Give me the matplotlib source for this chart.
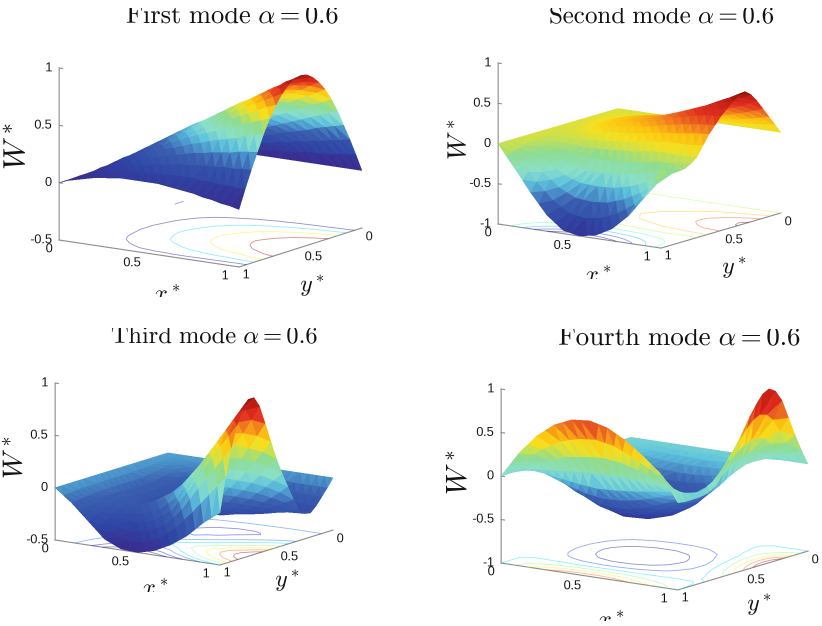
import matplotlib
matplotlib.use('Agg')
import matplotlib.pyplot as plt
import numpy as np
from matplotlib.colors import LinearSegmentedColormap, Normalize, PowerNorm
from matplotlib.transforms import Bbox, TransformedBbox
from mpl_toolkits.mplot3d import proj3d

plt.rcParams['font.family'] = ['Liberation Sans', 'DejaVu Sans']
plt.rcParams['mathtext.fontset'] = 'cm'

W_PX, H_PX = 822, 626

x_grid = [0, .05, .1, .15, .2, .25, .3, .35, .4, .45, .5, .55, .6, .65, .7, .75, .8, .85, .9, .95, 1]
y_grid = [0, .05, .1, .15, .2, .25, .3, .35, .4, .45, .5, .55, .6, .65, .7, .75, .8, .85, .9, .95, 1]

# W*, one row per x*, one column per y*
mode1 = [
    [0] * 21,
    [0, .01, .02, .02, .03, .04, .04, .05, .05, .05, .05, .05, .05, .05, .05, .05, .04, .04, .04, .03, .03],
    [0, .02, .03, .05, .06, .07, .08, .09, .10, .10, .11, .11, .11, .10, .10, .09, .09, .08, .07, .06, .05],
    [0, .02, .05, .07, .09, .11, .12, .13, .14, .15, .16, .16, .16, .15, .15, .14, .12, .11, .10, .08, .07],
    [0, .03, .06, .09, .12, .14, .16, .18, .19, .20, .21, .21, .21, .20, .19, .18, .16, .15, .13, .11, .09],
    [0, .04, .08, .11, .15, .18, .20, .22, .24, .25, .26, .26, .26, .25, .24, .22, .20, .17, .15, .12, .10],
    [0, .05, .09, .14, .18, .21, .24, .27, .29, .30, .31, .31, .31, .30, .28, .26, .23, .20, .17, .14, .11],
    [0, .05, .11, .16, .21, .25, .28, .31, .33, .35, .36, .37, .36, .34, .32, .30, .27, .23, .19, .15, .12],
    [0, .06, .12, .18, .24, .28, .32, .36, .38, .40, .42, .42, .41, .39, .37, .33, .30, .26, .21, .17, .12],
    [0, .07, .14, .20, .27, .32, .36, .40, .43, .45, .47, .47, .45, .43, .41, .37, .33, .28, .23, .17, .12],
    [0, .08, .16, .23, .29, .35, .41, .45, .48, .50, .52, .51, .50, .48, .45, .40, .35, .30, .24, .18, .12],
    [0, .09, .17, .25, .32, .39, .45, .49, .52, .54, .56, .56, .55, .52, .48, .44, .38, .32, .25, .18, .12],
    [0, .09, .19, .27, .35, .42, .49, .53, .57, .59, .61, .61, .59, .57, .52, .47, .41, .34, .27, .19, .11],
    [0, .10, .20, .30, .38, .46, .53, .58, .62, .64, .66, .66, .64, .61, .56, .50, .43, .36, .27, .19, .10],
    [0, .11, .22, .32, .41, .50, .57, .62, .67, .69, .71, .71, .69, .65, .60, .53, .46, .37, .28, .19, .09],
    [0, .12, .23, .34, .44, .53, .61, .67, .71, .74, .76, .75, .73, .69, .63, .56, .48, .39, .29, .18, .08],
    [0, .12, .25, .36, .47, .57, .65, .71, .76, .79, .81, .80, .77, .73, .67, .59, .50, .40, .29, .18, .06],
    [0, .13, .26, .39, .50, .60, .69, .76, .81, .84, .86, .85, .82, .77, .70, .62, .52, .41, .30, .17, .05],
    [0, .14, .28, .41, .53, .64, .73, .80, .86, .89, .90, .89, .86, .81, .74, .65, .55, .43, .30, .17, .03],
    [0, .15, .29, .43, .56, .67, .77, .85, .90, .94, .95, .95, .91, .85, .78, .68, .57, .44, .31, .16, .02],
    [0, .16, .31, .45, .59, .71, .81, .89, .95, .99, 1.0, .99, .95, .89, .81, .71, .59, .45, .31, .16, 0],
]
mode2 = [
    [0] * 21,
    [0, 0, .01, .01, .01, .01, .01, .01, .01, 0, 0, -.01, -.01, -.02, -.03, -.04, -.05, -.07, -.09, -.11, -.14],
    [0, .005, .01, .015, .02, .025, .03, .025, .02, .01, 0, -.01, -.02, -.035, -.05, -.07, -.10, -.14, -.18, -.22, -.27],
    [0, .01, .015, .025, .035, .04, .05, .05, .045, .035, .025, .01, -.01, -.03, -.06, -.095, -.135, -.195, -.26, -.33, -.41],
    [0, .01, .02, .035, .05, .06, .07, .07, .07, .06, .05, .03, 0, -.03, -.07, -.12, -.17, -.25, -.34, -.44, -.55],
    [0, .015, .03, .05, .07, .085, .10, .105, .105, .095, .08, .055, .02, -.025, -.075, -.14, -.215, -.31, -.42, -.54, -.675],
    [0, .02, .04, .065, .09, .11, .13, .14, .14, .13, .11, .08, .04, -.02, -.08, -.16, -.26, -.37, -.50, -.64, -.80],
    [0, .025, .05, .08, .105, .13, .15, .16, .165, .155, .14, .105, .06, -.01, -.08, -.17, -.28, -.405, -.55, -.705, -.88],
    [0, .03, .06, .09, .12, .145, .17, .18, .19, .18, .17, .13, .08, 0, -.08, -.18, -.30, -.44, -.60, -.77, -.96],
    [0, .03, .065, .10, .13, .16, .185, .195, .205, .195, .185, .145, .09, .01, -.07, -.175, -.30, -.445, -.61, -.785, -.98],
    [0, .035, .07, .105, .14, .17, .20, .21, .22, .21, .20, .16, .10, .02, -.06, -.17, -.30, -.45, -.62, -.80, -1.0],
    [0, .04, .08, .12, .16, .19, .225, .24, .25, .235, .22, .175, .115, .03, -.055, -.165, -.295, -.445, -.61, -.785, -.98],
    [0, .045, .09, .135, .18, .215, .25, .27, .28, .26, .24, .19, .13, .04, -.05, -.16, -.29, -.44, -.60, -.77, -.96],
    [0, .05, .105, .16, .21, .25, .29, .31, .315, .295, .27, .215, .15, .06, -.035, -.145, -.275, -.415, -.565, -.725, -.905],
    [0, .06, .12, .18, .24, .29, .33, .35, .35, .33, .30, .24, .17, .08, -.02, -.13, -.26, -.39, -.53, -.68, -.85],
    [0, .07, .135, .205, .275, .33, .375, .39, .385, .36, .33, .26, .18, .09, -.01, -.115, -.23, -.35, -.475, -.61, -.755],
    [0, .075, .15, .23, .31, .37, .42, .43, .42, .39, .36, .28, .19, .10, 0, -.10, -.20, -.31, -.42, -.54, -.66],
    [0, .085, .17, .26, .35, .42, .475, .48, .46, .42, .38, .295, .205, .10, -.005, -.095, -.175, -.26, -.35, -.44, -.53],
    [0, .095, .19, .29, .39, .47, .53, .53, .50, .45, .40, .31, .22, .10, -.01, -.09, -.15, -.21, -.28, -.34, -.40],
    [0, .11, .215, .325, .435, .525, .585, .575, .53, .47, .41, .32, .23, .11, -.005, -.075, -.125, -.16, -.195, -.21, -.215],
    [0, .12, .24, .36, .48, .58, .64, .62, .56, .49, .42, .33, .24, .12, 0, -.06, -.10, -.11, -.11, -.08, -.03],
]
mode3 = [
    [0] * 21,
    [0, -.01, -.015, -.02, -.03, -.035, -.04, -.04, -.045, -.045, -.045, -.045, -.045, -.045, -.045, -.05, -.05, -.05, -.055, -.06, -.06],
    [0, -.015, -.03, -.045, -.06, -.07, -.08, -.085, -.09, -.09, -.09, -.09, -.09, -.09, -.09, -.095, -.10, -.105, -.11, -.115, -.12],
    [0, -.02, -.045, -.07, -.09, -.105, -.115, -.12, -.13, -.13, -.13, -.13, -.125, -.12, -.12, -.125, -.135, -.15, -.165, -.18, -.195],
    [0, -.03, -.06, -.09, -.12, -.14, -.15, -.16, -.17, -.17, -.17, -.165, -.16, -.155, -.15, -.155, -.17, -.19, -.22, -.24, -.27],
    [0, -.04, -.075, -.11, -.145, -.17, -.185, -.20, -.21, -.21, -.21, -.20, -.195, -.18, -.175, -.18, -.205, -.235, -.275, -.305, -.345],
    [0, -.045, -.09, -.13, -.17, -.20, -.22, -.24, -.25, -.25, -.25, -.24, -.23, -.21, -.20, -.21, -.24, -.28, -.33, -.37, -.42],
    [0, -.05, -.10, -.145, -.19, -.22, -.245, -.265, -.275, -.275, -.27, -.25, -.23, -.195, -.165, -.185, -.23, -.285, -.345, -.40, -.455],
    [0, -.055, -.11, -.16, -.21, -.24, -.27, -.29, -.30, -.30, -.29, -.26, -.23, -.18, -.13, -.16, -.22, -.29, -.36, -.43, -.49],
    [0, -.06, -.115, -.17, -.225, -.26, -.29, -.31, -.315, -.31, -.295, -.255, -.205, -.14, -.08, -.11, -.185, -.265, -.345, -.425, -.495],
    [0, -.06, -.12, -.18, -.24, -.28, -.31, -.33, -.33, -.32, -.30, -.25, -.18, -.10, -.03, -.06, -.15, -.24, -.33, -.42, -.50],
    [0, -.065, -.125, -.19, -.25, -.29, -.32, -.33, -.325, -.305, -.27, -.21, -.135, -.045, .035, .015, -.085, -.185, -.29, -.39, -.48],
    [0, -.07, -.13, -.20, -.26, -.30, -.33, -.33, -.32, -.29, -.24, -.17, -.09, .01, .10, .09, -.02, -.13, -.25, -.36, -.46],
    [0, -.07, -.135, -.205, -.265, -.30, -.325, -.315, -.295, -.25, -.19, -.11, -.02, .09, .19, .19, .09, -.03, -.165, -.295, -.42],
    [0, -.07, -.14, -.21, -.27, -.30, -.32, -.30, -.27, -.21, -.14, -.05, .05, .17, .28, .29, .20, .07, -.08, -.23, -.38],
    [0, -.075, -.145, -.215, -.275, -.295, -.305, -.275, -.23, -.155, -.07, .03, .14, .27, .39, .405, .325, .19, .035, -.145, -.325],
    [0, -.08, -.15, -.22, -.28, -.29, -.29, -.25, -.19, -.10, 0, .11, .23, .37, .50, .52, .45, .31, .15, -.06, -.27],
    [0, -.08, -.15, -.22, -.28, -.28, -.27, -.21, -.135, -.03, .085, .21, .345, .495, .62, .64, .575, .435, .255, .035, -.195],
    [0, -.08, -.15, -.22, -.28, -.27, -.25, -.17, -.08, .04, .17, .31, .46, .62, .74, .76, .70, .56, .36, .13, -.12],
    [0, -.08, -.15, -.22, -.275, -.265, -.225, -.13, -.015, .115, .26, .42, .59, .76, .87, .88, .81, .67, .47, .225, -.06],
    [0, -.08, -.15, -.22, -.27, -.26, -.20, -.09, .05, .19, .35, .53, .72, .90, 1.0, 1.0, .92, .78, .58, .32, 0],
]
mode4 = [
    [0] * 21,
    [0, -.005, -.015, -.025, -.04, -.055, -.07, -.085, -.095, -.105, -.105, -.105, -.095, -.085, -.065, -.045, -.015, .02, .06, .10, .145],
    [0, -.01, -.03, -.05, -.08, -.11, -.14, -.17, -.19, -.21, -.21, -.21, -.19, -.17, -.13, -.09, -.03, .04, .12, .20, .29],
    [0, -.015, -.04, -.07, -.11, -.15, -.195, -.235, -.27, -.295, -.30, -.295, -.275, -.24, -.19, -.125, -.045, .05, .16, .275, .405],
    [0, -.02, -.05, -.09, -.14, -.19, -.25, -.30, -.35, -.38, -.39, -.38, -.36, -.31, -.25, -.16, -.06, .06, .20, .35, .52],
    [0, -.025, -.055, -.10, -.155, -.215, -.28, -.34, -.395, -.43, -.44, -.43, -.41, -.36, -.29, -.19, -.075, .07, .235, .41, .60],
    [0, -.03, -.06, -.11, -.17, -.24, -.31, -.38, -.44, -.48, -.49, -.48, -.46, -.41, -.33, -.22, -.09, .08, .27, .47, .68],
    [0, -.03, -.06, -.115, -.18, -.25, -.325, -.40, -.465, -.505, -.52, -.51, -.49, -.435, -.35, -.235, -.10, .085, .285, .50, .725],
    [0, -.03, -.06, -.12, -.19, -.26, -.34, -.42, -.49, -.53, -.55, -.54, -.52, -.46, -.37, -.25, -.11, .09, .30, .53, .77],
    [0, -.03, -.065, -.12, -.19, -.26, -.34, -.42, -.49, -.53, -.55, -.54, -.515, -.455, -.365, -.245, -.105, .095, .31, .54, .78],
    [0, -.03, -.07, -.12, -.19, -.26, -.34, -.42, -.49, -.53, -.55, -.54, -.51, -.45, -.36, -.24, -.10, .10, .32, .55, .79],
    [0, -.03, -.065, -.115, -.18, -.245, -.32, -.395, -.46, -.50, -.52, -.51, -.48, -.42, -.335, -.22, -.09, .10, .31, .53, .765],
    [0, -.03, -.06, -.11, -.17, -.23, -.30, -.37, -.43, -.47, -.49, -.48, -.45, -.39, -.31, -.20, -.08, .10, .30, .51, .74],
    [0, -.025, -.05, -.09, -.14, -.195, -.255, -.315, -.37, -.41, -.43, -.42, -.395, -.34, -.27, -.17, -.065, .09, .27, .465, .685],
    [0, -.02, -.04, -.07, -.11, -.16, -.21, -.26, -.31, -.35, -.37, -.36, -.34, -.29, -.23, -.14, -.05, .08, .24, .42, .63],
    [0, 0, -.005, -.02, -.04, -.08, -.12, -.165, -.215, -.25, -.275, -.27, -.26, -.22, -.175, -.105, -.035, .07, .20, .365, .555],
    [0, .02, .03, .03, .03, 0, -.03, -.07, -.12, -.15, -.18, -.18, -.18, -.15, -.12, -.07, -.02, .06, .16, .31, .48],
    [0, .055, .105, .15, .19, .19, .175, .14, .09, .04, -.015, -.045, -.075, -.08, -.08, -.05, -.015, .045, .125, .25, .395],
    [0, .09, .18, .27, .35, .38, .38, .35, .30, .23, .15, .09, .03, -.01, -.04, -.03, -.01, .03, .09, .19, .31],
    [0, .135, .28, .435, .585, .665, .69, .655, .58, .485, .375, .28, .18, .095, .02, 0, -.005, .01, .04, .09, .155],
    [0, .18, .38, .60, .82, .95, 1.0, .96, .86, .74, .60, .47, .33, .20, .08, .03, 0, -.01, -.01, -.01, 0],
]

titles = ['First mode', 'Second mode', 'Third mode', 'Fourth mode']
alpha_value = '0.6'
x_ticks = [0, 0.5, 1]
y_ticks = [0, 0.5, 1]
z_ticks = [[-0.5, 0, 0.5, 1], [-1, -0.5, 0, 0.5, 1], [-0.5, 0, 0.5, 1], [-1, -0.5, 0, 0.5, 1]]
contour_levels = [
    [0.19, 0.38, 0.57, 0.76],
    [-0.8, -0.6, -0.4, -0.2, 0.0, 0.2, 0.4, 0.6],
    [-0.4, -0.3, -0.15, 0.0, 0.2, 0.4, 0.6, 0.8],
    [-0.4, -0.2, 0.0, 0.2, 0.4, 0.6, 0.8],
]
# short stray contour piece under the first surface
stray_x = [0.01, 0.01]
stray_y = [0.07, 0.006]

surface_cmap = LinearSegmentedColormap.from_list('soft_jet', [
    (0.00, '#3a2a8c'), (0.12, '#2f45a5'), (0.25, '#3a60b0'), (0.33, '#4f9fd0'),
    (0.38, '#60c4dc'), (0.45, '#8adfc9'), (0.56, '#8fdc8f'), (0.62, '#c8e050'),
    (0.67, '#f5e020'), (0.74, '#fdc010'), (0.80, '#f07a20'), (0.87, '#e03020'),
    (0.94, '#c82015'), (1.00, '#7a0f08')], N=512)

# pixel layout of each panel, measured on the reference
panels = [
    dict(a=(59, 240), b=(239, 267), c=(362, 228), top=68, elev=12.6, azim=-55.5, gamma=1.25,
         title=(232, 23, 8, 19), xlab=(167, 301, 297), ylab=(312, 291), wlab=(17, 147, 22)),
    dict(a=(498, 224), b=(661, 248), c=(781, 213), top=63, elev=12.0, azim=-54.6, gamma=0.9,
         title=(661, 23, 8, 18), xlab=(598, 282, 279), ylab=(734, 273), wlab=(459, 140, 19)),
    dict(a=(55, 540), b=(220, 565), c=(333, 530), top=383, elev=12.5, azim=-55.0, gamma=1.0,
         title=(214, 343, 328, 17.6), xlab=(155, 595, 592), ylab=(287, 586), wlab=(15, 458, 20)),
    dict(a=(501, 563), b=(678, 590), c=(808, 551), top=389, elev=12.3, azim=-54.5, gamma=0.85,
         title=(679, 345, 329, 19.4), xlab=(611, 627, 621), ylab=(759, 610), wlab=(459, 473, 21)),
]

fig = plt.figure(figsize=(W_PX / 100, H_PX / 100), dpi=100)


def project(ax, x, y, z):
    """ Pixel position (from the top left) of a data point in a 3D axes. """
    xs, ys, _ = proj3d.proj_transform(x, y, z, ax.get_proj())
    px, py = ax.transData.transform((xs, ys))
    return px, H_PX - py


def fit_axes(ax, zmin, a, b):
    """ Scale and move the square axes so the x* axis lands on pixels a-b. """
    side, cx, cy = 400.0, a[0] + 100.0, a[1] - 100.0
    for i in range(4):
        ax.set_position([(cx - side / 2) / W_PX, 1 - (cy + side / 2) / H_PX,
                         side / W_PX, side / H_PX])
        ax.apply_aspect()
        p0 = project(ax, 0, 1, zmin)
        p1 = project(ax, 1, 1, zmin)
        side *= np.hypot(b[0] - a[0], b[1] - a[1]) / np.hypot(p1[0] - p0[0], p1[1] - p0[1])
        ax.set_position([(cx - side / 2) / W_PX, 1 - (cy + side / 2) / H_PX,
                         side / W_PX, side / H_PX])
        ax.apply_aspect()
        p0 = project(ax, 0, 1, zmin)
        cx += a[0] - p0[0]
        cy += a[1] - p0[1]
    ax.set_position([(cx - side / 2) / W_PX, 1 - (cy + side / 2) / H_PX,
                     side / W_PX, side / H_PX])
    ax.apply_aspect()


def put_text(px, py, s, clip=None, **kw):
    t = fig.text(px / W_PX, 1 - py / H_PX, s, **kw)
    if clip is not None:
        # keep only what lies inside clip = (top, bottom), in pixels from the top
        box = Bbox([[0, (H_PX - clip[1]) / 100], [W_PX / 100, (H_PX - clip[0]) / 100]])
        t.set_clip_box(TransformedBbox(box, fig.dpi_scale_trans))
        t.set_clip_on(True)
    return t


def tick_text(v):
    return f'{v:g}'


def grid_triangles(Z):
    """ Split each grid cell along the diagonal whose ends are closest in height,
    so the colour bands follow the surface. """
    n_x, n_y = Z.shape
    tris = []
    for i in range(n_x - 1):
        for j in range(n_y - 1):
            a, b = i * n_y + j, (i + 1) * n_y + j
            c, d = (i + 1) * n_y + j + 1, i * n_y + j + 1
            if abs(Z[i, j] - Z[i + 1, j + 1]) <= abs(Z[i + 1, j] - Z[i, j + 1]):
                tris += [[a, b, c], [a, c, d]]
            else:
                tris += [[a, b, d], [b, c, d]]
    return tris


def draw_panel(values, name, zt, levels, p):
    Z = np.array(values, dtype=float)
    X, Y = np.meshgrid(x_grid, y_grid, indexing='ij')
    zmin, zmax = zt[0], zt[-1]

    ax = fig.add_axes([0, 0, 0.5, 0.5], projection='3d', proj_type='ortho',
                      computed_zorder=False)
    ax.set_axis_off()
    ax.set_xlim(0, 1, view_margin=0)
    ax.set_ylim(1, 0, view_margin=0)
    ax.set_zlim(zmin, zmax, view_margin=0)
    ax.view_init(elev=p['elev'], azim=p['azim'])

    # box lengths from the pixel lengths of the three axes
    th = np.radians(-p['azim'])
    e = np.radians(p['elev'])
    len_x = np.hypot(*np.subtract(p['b'], p['a'])) / np.hypot(np.sin(th), np.cos(th) * np.sin(e))
    len_y = np.hypot(*np.subtract(p['c'], p['b'])) / np.hypot(np.cos(th), np.sin(th) * np.sin(e))
    len_z = (p['a'][1] - p['top']) / np.cos(e)
    ax.set_box_aspect((len_x, len_y, len_z))
    fit_axes(ax, zmin, p['a'], p['b'])

    grey = '#8c8c8c'

    # axes lines and ticks
    ax.plot([0, 1], [1, 1], [zmin, zmin], color=grey, lw=0.8, zorder=1)
    ax.plot([1, 1], [1, 0], [zmin, zmin], color=grey, lw=0.8, zorder=1)
    ax.plot([0, 0], [1, 1], [zmin, zmax], color=grey, lw=0.8, zorder=1)
    for t in zt:
        ax.plot([0, 0.02], [1, 1], [t, t], color=grey, lw=0.8, zorder=1)

    step = (levels[-1] - levels[0]) * 0.03
    ax.contour(X, Y, Z, levels=levels, zdir='z', offset=zmin, cmap='jet',
               norm=Normalize(levels[0] - step, levels[-1] + step),
               linewidths=0.6, alpha=0.45, zorder=2)
    if name == titles[0]:
        ax.plot(stray_x, stray_y, [zmin, zmin], color='#8f9ad8', lw=0.6, zorder=2)

    norm = PowerNorm(p['gamma'], vmin=Z.min(), vmax=Z.max())
    ax.plot_trisurf(X.ravel(), Y.ravel(), Z.ravel(), triangles=grid_triangles(Z),
                    cmap=surface_cmap, norm=norm, linewidth=0, antialiased=False, zorder=3)

    # tick labels
    fs = 9.2
    for t in zt:
        px, py = project(ax, 0, 1, t)
        put_text(px - 7, py, tick_text(t), fontsize=fs, ha='right', va='center', color='#111111')
    x_off = [(-10, 9), (-17, 9.5), (-14, 9)]
    for t, off in zip(x_ticks, x_off):
        px, py = project(ax, t, 1, zmin)
        put_text(px + off[0], py + off[1], tick_text(t), fontsize=fs, ha='center', va='center',
                 color='#111111')
    y_off = {1: (7, 8), 0.5: (13, 9.5), 0: (7, 9)}
    for t in y_ticks:
        px, py = project(ax, 1, t, zmin)
        put_text(px + y_off[t][0], py + y_off[t][1], tick_text(t), fontsize=fs, ha='center',
                 va='center', color='#111111')

    # titles and axis labels are cut by the edge of each sub-picture
    tx, ty, tclip, tsize = p['title']
    put_text(tx, ty, r'$\mathrm{' + name.replace(' ', r'\ ') + r'}\ \alpha=' + alpha_value + '$',
             clip=(tclip, ty + 20), fontsize=tsize, ha='center', va='baseline', color='#111111')
    lx, ly, lclip = p['xlab']
    put_text(lx, ly, r'$x^*$', clip=(ly - 40, lclip), fontsize=17, ha='center', va='baseline',
             color='#111111')
    put_text(p['ylab'][0], p['ylab'][1], r'$y^*$', fontsize=17, ha='center', va='baseline',
             color='#111111')
    put_text(p['wlab'][0], p['wlab'][1], r'$W^*$', fontsize=p['wlab'][2], rotation=90, ha='center',
             va='center', color='#111111')


all_modes = [mode1, mode2, mode3, mode4]
for values, name, zt, levels, p in zip(all_modes, titles, z_ticks, contour_levels, panels):
    draw_panel(values, name, zt, levels, p)

# draw at three times the size and average down, the reference is soft as well
fig.set_dpi(300)
fig.canvas.draw()
big = np.asarray(fig.canvas.buffer_rgba())[:, :, :3].astype(float)
small = big[:H_PX * 3, :W_PX * 3].reshape(H_PX, 3, W_PX, 3, 3).mean(axis=(1, 3))
plt.imsave('out.png', small.round().astype(np.uint8))
